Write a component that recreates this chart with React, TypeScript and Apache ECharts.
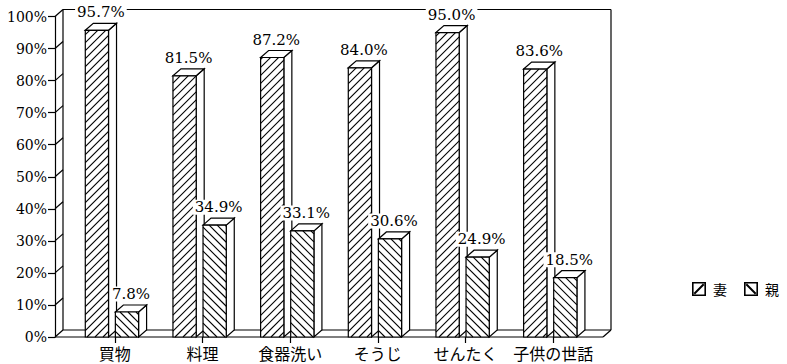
import React, { useEffect, useRef } from "react";
import * as echarts from "echarts";

const categories = ["買物", "料理", "食器洗い", "そうじ", "せんたく", "子供の世話"];
const wifeValues = [95.7, 81.5, 87.2, 84.0, 95.0, 83.6];
const parentValues = [7.8, 34.9, 33.1, 30.6, 24.9, 18.5];
const seriesNames = ["妻", "親"];
const yMin = 0;
const yMax = 100;
const yStep = 10;

const DX = 8;
const DY = -7;
const Y_OFFSET = 16;
const LW = 1.2;

function hatchLines(x0: number, x1: number, yt: number, yb: number, dir: "fwd" | "back", s: number) {
  const out: any[] = [];
  if (yb - yt < 0.5) return out;
  if (dir === "fwd") {
    const kStart = Math.ceil((x0 + yt) / s) * s;
    for (let k = kStart; k <= x1 + yb; k += s) {
      const xa = Math.max(x0, k - yb);
      const xb = Math.min(x1, k - yt);
      if (xb - xa > 0.3) {
        out.push({
          type: "line",
          shape: { x1: xa, y1: k - xa, x2: xb, y2: k - xb },
          style: { stroke: "#000", lineWidth: 1.1 },
        });
      }
    }
  } else {
    const kStart = Math.ceil((yt - x1) / s) * s;
    for (let k = kStart; k <= yb - x0; k += s) {
      const xa = Math.max(x0, yt - k);
      const xb = Math.min(x1, yb - k);
      if (xb - xa > 0.3) {
        out.push({
          type: "line",
          shape: { x1: xa, y1: xa + k, x2: xb, y2: xb + k },
          style: { stroke: "#000", lineWidth: 1.1 },
        });
      }
    }
  }
  return out;
}

function makeBarRender(offsetRatio: number, dir: "fwd" | "back") {
  return (params: any, api: any) => {
    const idx = api.value(0);
    const val = api.value(1);
    const top = api.coord([idx, val]);
    const base = api.coord([idx, 0]);
    const bw = api.size([1, 0])[0];
    const w = bw * 0.265;
    const x0 = top[0] + bw * offsetRatio;
    const x1 = x0 + w;
    const yt = top[1];
    const yb = base[1];
    const st = { stroke: "#000", lineWidth: LW, fill: "#fff" };
    const children: any[] = [
      {
        type: "polygon",
        shape: { points: [[x1, yt], [x1 + DX, yt + DY], [x1 + DX, yb + DY], [x1, yb]] },
        style: st,
      },
      {
        type: "polygon",
        shape: { points: [[x0, yt], [x0 + DX, yt + DY], [x1 + DX, yt + DY], [x1, yt]] },
        style: st,
      },
      { type: "rect", shape: { x: x0, y: yt, width: w, height: yb - yt }, style: st },
      ...hatchLines(x0, x1, yt, yb, dir, 8),
      {
        type: "text",
        style: {
          text: val.toFixed(1) + "%",
          x: (x0 + x1 + DX) / 2,
          y: yt + DY - 11,
          align: "center",
          verticalAlign: "middle",
          fontSize: 15,
          fontFamily: "DejaVu Serif",
          fill: "#000",
          backgroundColor: "#fff",
          padding: [0, 2],
        },
      },
    ];
    return { type: "group", children };
  };
}

function frameRender(params: any, api: any) {
  const bw = api.size([1, 0])[0];
  const first = api.coord([0, yMin]);
  const last = api.coord([categories.length - 1, yMin]);
  const y0 = first[1];
  const y100 = api.coord([0, yMax])[1];
  const lx = first[0] - bw / 2 - Y_OFFSET;
  const rx = last[0] + bw / 2 + 6;
  const ls = { stroke: "#000", lineWidth: LW };
  const children: any[] = [];
  children.push({ type: "line", shape: { x1: lx + DX, y1: y100 + DY, x2: rx + DX, y2: y100 + DY }, style: ls });
  children.push({ type: "line", shape: { x1: rx + DX, y1: y100 + DY, x2: rx + DX, y2: y0 + DY }, style: ls });
  children.push({ type: "line", shape: { x1: lx + DX, y1: y100 + DY, x2: lx + DX, y2: y0 + DY }, style: ls });
  children.push({ type: "line", shape: { x1: lx + DX, y1: y0 + DY, x2: rx + DX, y2: y0 + DY }, style: ls });
  children.push({ type: "line", shape: { x1: lx, y1: y0, x2: rx, y2: y0 }, style: ls });
  children.push({ type: "line", shape: { x1: rx, y1: y0, x2: rx + DX, y2: y0 + DY }, style: ls });
  for (let v = yMin; v <= yMax; v += yStep) {
    const y = api.coord([0, v])[1];
    children.push({ type: "line", shape: { x1: lx, y1: y, x2: lx + DX, y2: y + DY }, style: ls });
  }
  return { type: "group", children };
}

const wifeIcon =
  "path://M0,0H14V14H0Z M1.6,1.6V12.4H12.4V1.6Z M1.6,11L11,1.6L12.4,3L3,12.4Z";
const parentIcon =
  "path://M0,0H14V14H0Z M1.6,1.6V12.4H12.4V1.6Z M3,1.6L12.4,11L11,12.4L1.6,3Z";

export default function App() {
  const ref = useRef<HTMLDivElement>(null);
  useEffect(() => {
    if (!ref.current) return;
    const chart = echarts.init(ref.current, undefined, { renderer: "svg" });
    chart.setOption({
      animation: false,
      backgroundColor: "#fff",
      grid: { left: 71, right: 190, top: 16.5, bottom: 27 },
      legend: {
        orient: "horizontal",
        left: 692,
        top: 282,
        width: 120,
        padding: 0,
        itemWidth: 14,
        itemHeight: 14,
        itemGap: 17,
        selectedMode: false,
        textStyle: { fontSize: 14, fontFamily: "Noto Sans CJK JP", color: "#000", padding: [0, 0, 0, 2] },
        data: [
          { name: seriesNames[0], icon: wifeIcon, itemStyle: { color: "#000", borderWidth: 0 } },
          { name: seriesNames[1], icon: parentIcon, itemStyle: { color: "#000", borderWidth: 0 } },
        ],
      },
      xAxis: {
        type: "category",
        data: categories,
        axisLine: { show: false },
        axisTick: { show: true, alignWithLabel: true, length: 6, lineStyle: { color: "#000", width: LW } },
        axisLabel: { color: "#000", fontSize: 16, fontFamily: "Noto Sans CJK JP", margin: 8, interval: 0 },
        splitLine: { show: false },
      },
      yAxis: {
        type: "value",
        min: yMin,
        max: yMax,
        interval: yStep,
        offset: Y_OFFSET,
        axisLine: { show: true, lineStyle: { color: "#000", width: LW } },
        axisTick: { show: true, length: 7, lineStyle: { color: "#000", width: LW } },
        axisLabel: {
          color: "#000",
          fontSize: 14,
          fontFamily: "DejaVu Serif",
          margin: 8,
          formatter: "{value}%",
        },
        splitLine: { show: false },
      },
      series: [
        {
          type: "custom",
          name: "frame",
          renderItem: frameRender,
          data: [[0, 0]],
          encode: { x: 0, y: 1 },
          silent: true,
          clip: false,
        },
        {
          type: "custom",
          name: seriesNames[0],
          renderItem: makeBarRender(-0.337, "fwd"),
          data: wifeValues.map((v, i) => [i, v]),
          encode: { x: 0, y: 1 },
          itemStyle: { color: "#000" },
          clip: false,
        },
        {
          type: "custom",
          name: seriesNames[1],
          renderItem: makeBarRender(0.006, "back"),
          data: parentValues.map((v, i) => [i, v]),
          encode: { x: 0, y: 1 },
          itemStyle: { color: "#000" },
          clip: false,
        },
      ],
    });
    return () => chart.dispose();
  }, []);
  return (
    <div
      ref={ref}
      style={{ position: "absolute", left: 0, top: 0, width: 787, height: 364, background: "#fff" }}
    />
  );
}
